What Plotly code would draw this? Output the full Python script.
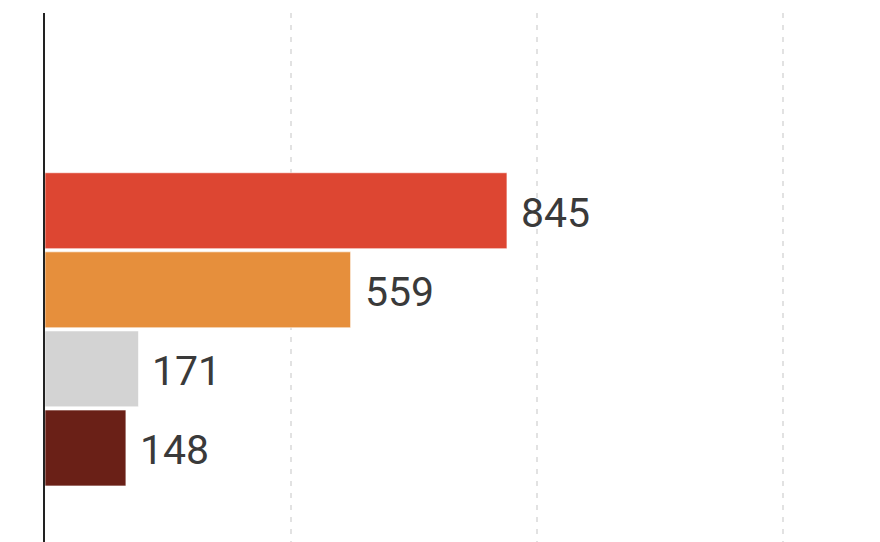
import plotly.graph_objects as go

categories = ["A", "B", "C", "D"]
values = [845, 559, 171, 148]
colors = ["#DD4632", "#E68F3C", "#D3D3D3", "#6A2017"]
grid_ticks = [450, 900, 1350]

fig = go.Figure()

fig.add_trace(
    go.Bar(
        x=values,
        y=categories,
        orientation="h",
        marker=dict(color=colors, line=dict(color="rgba(255,255,255,0.6)", width=1)),
        hoverinfo="skip",
    )
)

# value labels just right of each bar
for cat, val in zip(categories, values):
    fig.add_annotation(
        x=val, y=cat, text=str(val),
        xanchor="left", yanchor="middle", xshift=12, yshift=-2, showarrow=False,
        font=dict(family="Roboto, sans-serif", size=41, color="#3a3a3a"),
    )

fig.update_xaxes(
    range=[0, 1542],
    tickvals=grid_ticks,
    showticklabels=False,
    showgrid=True,
    gridcolor="#e2e2e2",
    gridwidth=2,
    griddash="5px,7px",
    zeroline=False,
    showline=False,
)

fig.update_yaxes(
    type="category",
    categoryorder="array",
    categoryarray=categories,
    range=[4.29, -2.5],
    showticklabels=False,
    showgrid=False,
    zeroline=False,
    showline=True,
    linecolor="#222222",
    linewidth=2,
)

fig.update_layout(
    width=880,
    height=542,
    bargap=0.04,
    showlegend=False,
    plot_bgcolor="white",
    paper_bgcolor="white",
    margin=dict(l=37, r=0, t=5, b=0),
)

fig.write_html("out.html")
